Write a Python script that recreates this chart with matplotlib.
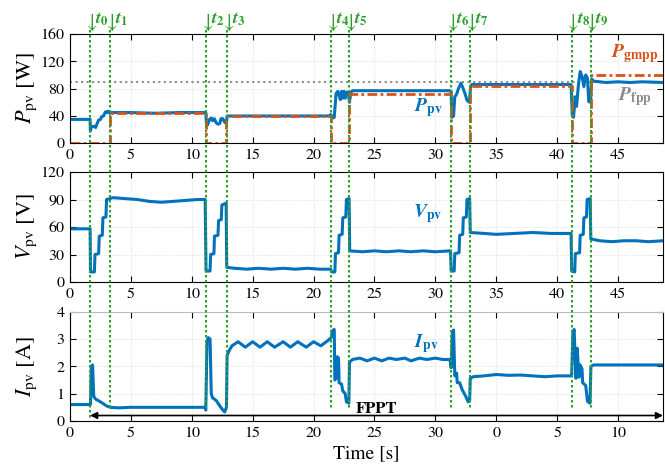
import matplotlib.pyplot as plt
from matplotlib.lines import Line2D
from matplotlib.transforms import blended_transform_factory

plt.rcParams['font.family'] = 'STIXGeneral'
plt.rcParams['mathtext.fontset'] = 'stix'

# switching instants t0..t9 [s]
t_events = [1.65, 3.3, 11.17, 12.87, 21.45, 22.95, 31.3, 32.84, 41.2, 42.75]
t_end = 48.7

# P_pv [W] (time, value)
p_pv_pts = [(0, 35), (1.65, 35), (1.67, 18), (1.75, 24), (2.0, 25), (2.1, 23), (2.25, 30), (2.35, 34),
            (2.5, 35), (2.6, 39), (2.75, 40), (2.9, 46), (3.0, 45), (3.1, 47), (3.25, 44), (3.35, 45),
            (5, 45), (7, 44), (9, 45), (11.15, 45), (11.2, 29), (11.3, 27), (11.45, 35), (11.6, 37),
            (11.7, 33), (11.85, 36), (12.0, 30), (12.15, 28), (12.3, 29), (12.4, 36), (12.55, 36),
            (12.7, 31), (12.85, 29), (12.9, 40), (15, 40), (18, 40), (21.3, 40), (21.4, 42), (21.5, 40),
            (21.6, 37), (21.7, 38), (21.85, 73), (22.0, 76), (22.1, 70), (22.2, 64), (22.3, 76),
            (22.4, 66), (22.5, 76), (22.6, 66), (22.7, 75), (22.85, 74), (22.95, 60), (23.05, 74),
            (23.2, 77), (25, 77), (28, 77), (31.2, 77), (31.3, 76), (31.35, 38), (31.5, 40), (31.6, 68),
            (31.75, 72), (31.9, 80), (32.1, 88), (32.25, 82), (32.45, 72), (32.6, 63), (32.8, 60),
            (32.9, 84), (33.0, 86), (36, 86), (40, 86), (41.15, 86), (41.25, 40), (41.35, 38),
            (41.5, 68), (41.6, 54), (41.75, 85), (41.9, 105), (42.05, 98), (42.2, 83), (42.35, 100),
            (42.5, 95), (42.6, 61), (42.75, 60), (42.85, 94), (43.0, 91), (44, 89), (45, 90), (46, 89),
            (47, 90), (48.7, 89)]

# P_gmpp [W], step values
gmpp_time = [0, 3.25, 11.17, 12.85, 21.45, 22.95, 31.3, 32.84, 41.2, 42.8, 48.7]
p_gmpp = [0, 45, 0, 40, 0, 72, 0, 84, 0, 100, 100]
p_fpp = 90

# V_pv [V]
v_pv_pts = [(0, 58), (1.65, 58), (1.68, 11), (2.0, 11), (2.05, 30), (2.35, 31), (2.4, 50), (2.65, 51),
            (2.7, 70), (2.95, 71), (3.0, 90), (3.3, 91), (3.5, 92), (4.5, 91), (5.5, 90), (6.5, 88),
            (7.5, 87), (8.5, 88), (9.5, 89), (10.5, 90), (11.1, 90), (11.17, 12), (11.5, 12),
            (11.55, 30), (11.82, 31), (11.86, 50), (12.15, 51), (12.2, 67), (12.42, 68), (12.47, 84),
            (12.82, 86), (12.87, 16), (13.5, 15), (14.5, 14), (15.5, 15), (16.5, 14), (17.5, 15),
            (18.5, 14), (19.5, 15), (20.5, 14), (21.4, 14), (21.5, 11), (21.75, 11), (21.8, 31),
            (22.05, 32), (22.1, 51), (22.35, 52), (22.4, 70), (22.65, 71), (22.7, 90), (22.92, 91),
            (22.97, 34), (24, 33), (25, 34), (26, 33), (27, 34), (28, 33), (29, 34), (30, 33),
            (31.25, 34), (31.3, 12), (31.55, 12), (31.6, 31), (31.95, 32), (32.0, 51), (32.25, 52),
            (32.3, 70), (32.55, 71), (32.6, 90), (32.82, 91), (32.87, 54), (34, 53), (35, 52),
            (36.5, 53), (38, 54), (39.5, 53), (41.15, 53), (41.2, 12), (41.45, 11), (41.5, 31),
            (41.85, 32), (41.9, 51), (42.15, 52), (42.2, 70), (42.42, 71), (42.47, 90), (42.72, 91),
            (42.77, 47), (43.5, 45), (44.5, 44), (45.5, 45), (46.5, 45), (47.5, 44), (48.7, 45)]

# I_pv [A]
i_pv_pts = [(0, 0.6), (1.65, 0.6), (1.68, 0.6), (1.75, 2.0), (1.85, 2.05), (1.95, 0.9), (2.1, 0.8),
            (2.5, 0.7), (3.0, 0.55), (3.3, 0.5), (4, 0.48), (5, 0.5), (8, 0.5), (11.1, 0.5),
            (11.15, 0.4), (11.25, 2.9), (11.35, 3.05), (11.5, 3.0), (11.6, 1.0), (11.7, 0.85),
            (12.0, 0.75), (12.3, 0.55), (12.55, 0.4), (12.7, 0.33), (12.85, 0.5), (12.9, 2.4),
            (13.1, 2.6), (13.3, 2.75), (13.8, 2.9), (14.4, 2.7), (15.0, 2.9), (15.6, 2.7), (16.2, 2.9),
            (16.8, 2.7), (17.5, 2.9), (18.1, 2.7), (18.7, 2.9), (19.4, 2.7), (20.0, 2.9), (20.6, 2.75),
            (21.2, 2.95), (21.45, 3.05), (21.55, 3.3), (21.7, 3.35), (21.75, 1.5), (21.85, 1.55),
            (21.95, 2.35), (22.05, 2.3), (22.1, 1.4), (22.3, 1.35), (22.4, 1.1), (22.6, 1.0),
            (22.7, 0.7), (22.9, 0.65), (22.95, 2.15), (23.2, 2.25), (23.8, 2.3), (24.4, 2.2),
            (25, 2.3), (25.6, 2.2), (26.2, 2.3), (26.8, 2.25), (27.5, 2.3), (28, 2.2), (28.7, 2.3),
            (29.3, 2.25), (30, 2.3), (30.6, 2.25), (31.2, 2.25), (31.3, 1.95), (31.4, 3.2),
            (31.5, 3.33), (31.6, 1.65), (31.75, 1.75), (31.8, 1.4), (32.0, 1.4), (32.2, 1.15),
            (32.5, 0.9), (32.7, 0.7), (32.82, 0.75), (32.87, 1.55), (33.1, 1.62), (34, 1.65),
            (35, 1.7), (36, 1.67), (37, 1.68), (38, 1.65), (39, 1.62), (40, 1.65), (41.1, 1.65),
            (41.2, 1.7), (41.3, 3.2), (41.4, 3.35), (41.55, 1.56), (41.65, 2.66), (41.8, 1.6),
            (41.9, 2.05), (42.05, 1.9), (42.1, 1.4), (42.35, 1.3), (42.5, 0.72), (42.7, 0.65),
            (42.78, 2.0), (43, 2.05), (45, 2.05), (48.7, 2.05)]

x_ticks = [0, 5, 10, 15, 20, 25, 30, 35, 40, 45]
bottom_tick_labels = ['0', '5', '10', '15', '20', '25', '30', '0', '5', '10']

blue = '#0072BD'
orange = '#D95319'
green = '#2ca02c'

fig = plt.figure(figsize=(6.65, 4.72), dpi=100)
ax1 = fig.add_axes([0.1053, 0.6964, 0.8917, 0.2316])
ax2 = fig.add_axes([0.1053, 0.4025, 0.8917, 0.2331])
ax3 = fig.add_axes([0.1053, 0.1081, 0.8917, 0.2316])

ax1.axhline(p_fpp, color='#8c8c8c', lw=1.5, ls=':')
ax1.plot(gmpp_time, p_gmpp, color=orange, lw=2, ls=(0, (3.5, 1.2, 1, 1.2)), drawstyle='steps-post', zorder=3)
ax1.plot([p[0] for p in p_pv_pts], [p[1] for p in p_pv_pts], color=blue, lw=2.2, zorder=2)
ax2.plot([p[0] for p in v_pv_pts], [p[1] for p in v_pv_pts], color=blue, lw=2.2)
ax3.plot([p[0] for p in i_pv_pts], [p[1] for p in i_pv_pts], color=blue, lw=2.2)

ax1.set_ylim(0, 160)
ax1.set_yticks([0, 40, 80, 120, 160])
ax2.set_ylim(0, 120)
ax2.set_yticks([0, 30, 60, 90, 120])
ax3.set_ylim(0, 4)
ax3.set_yticks([0, 1, 2, 3, 4])

for ax in [ax1, ax2, ax3]:
    ax.set_xlim(0, t_end)
    ax.set_xticks(x_ticks)
    ax.tick_params(direction='in', top=True, right=True, length=4, labelsize=11.5, pad=4)
    ax.grid(True, color='#dddddd', ls=':', lw=0.7)
    ax.yaxis.set_label_coords(-0.052, 0.5)
ax3.set_xticklabels(bottom_tick_labels)
ax3.spines['top'].set_color('#bbbbbb')

ax1.set_ylabel(r'$P_{\rm pv}$ [W]', fontsize=16)
ax2.set_ylabel(r'$V_{\rm pv}$ [V]', fontsize=16)
ax3.set_ylabel(r'$I_{\rm pv}$ [A]', fontsize=16)
ax3.set_xlabel('Time [s]', fontsize=14, labelpad=4)

ax1.text(46.4, 132, r'$\mathbfit{P}_{\mathbf{gmpp}}$', color=orange, fontsize=14, ha='center', va='center')
ax1.text(46.4, 68, r'$\mathbfit{P}_{\mathbf{fpp}}$', color='#8c8c8c', fontsize=14, ha='center', va='center')
ax1.text(29.4, 52, r'$\mathbfit{P}_{\mathbf{pv}}$', color=blue, fontsize=14, ha='center', va='center')
ax2.text(29.4, 75, r'$\mathbfit{V}_{\mathbf{pv}}$', color=blue, fontsize=14, ha='center', va='center')
ax3.text(29.3, 2.85, r'$\mathbfit{I}_{\mathbf{pv}}$', color=blue, fontsize=14, ha='center', va='center')

ax3.annotate('', xy=(t_end, 0.2), xytext=(t_events[0], 0.2), annotation_clip=False,
             arrowprops=dict(arrowstyle='<|-|>', color='k', lw=1.2, mutation_scale=10, shrinkA=0, shrinkB=0))
ax3.text(25.2, 0.45, 'FPPT', fontsize=12, fontweight='bold', ha='center', va='center')

# event markers across all panels
trans = blended_transform_factory(ax1.transData, fig.transFigure)
for k, t in enumerate(t_events):
    y_low = 1 - 418 / 472 if k == 0 else 1 - 408 / 472
    fig.add_artist(Line2D([t, t], [1 - 30 / 472, y_low], transform=trans, color=green,
                          lw=1.5, ls=(0, (1.2, 1.2))))
    fig.text(t, 1 - 23 / 472, r'$\downarrow$', transform=trans, color=green, fontsize=15,
             ha='center', va='center')
    ax1.annotate(r'$\mathbfit{t}_{\mathbf{%d}}$' % k, xy=(t, 1 - 19 / 472), xycoords=trans,
                 xytext=(3.5, 0), textcoords='offset points', color=green, fontsize=13,
                 ha='left', va='center', annotation_clip=False)

fig.savefig('out.png', dpi=100)
